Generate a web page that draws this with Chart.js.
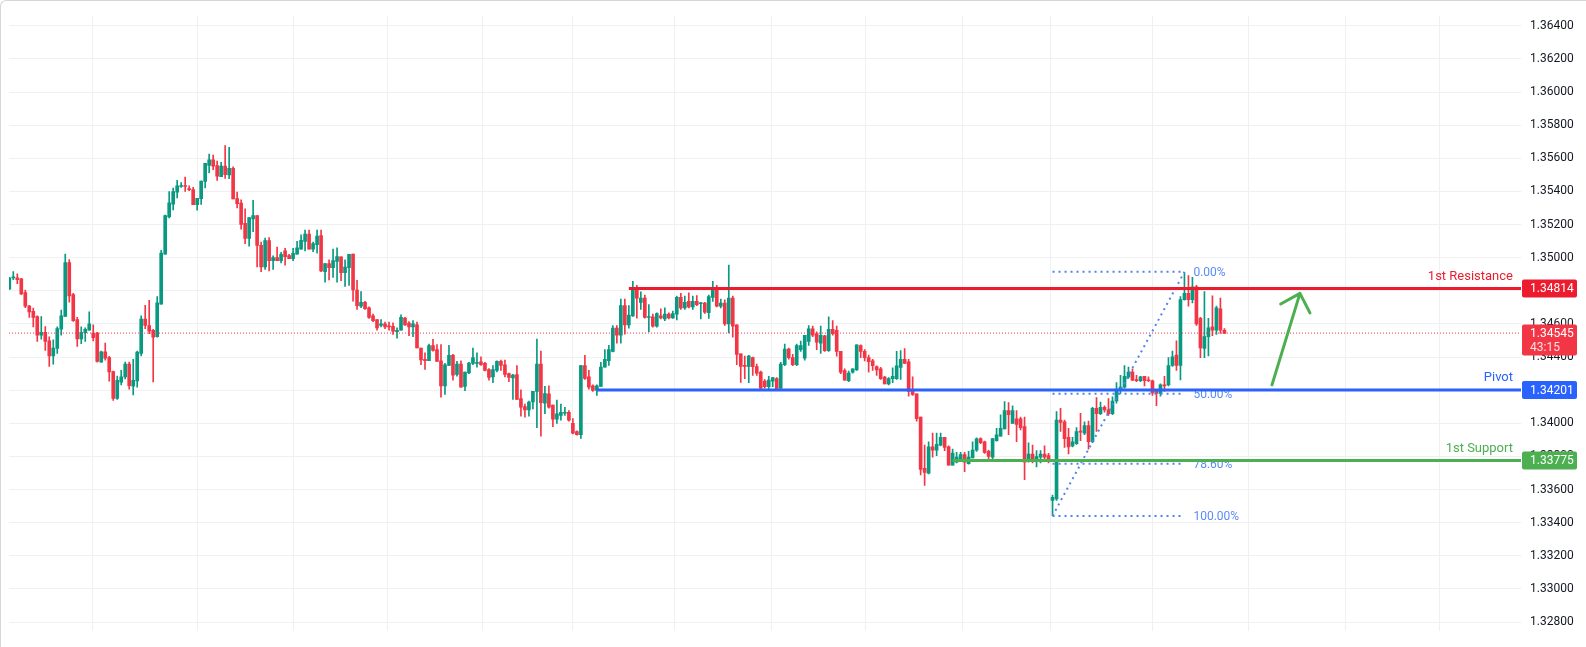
<!DOCTYPE html>
<html>
<head>
<meta charset="utf-8">
<title>Candles with levels</title>
<script src="https://cdn.jsdelivr.net/npm/chart.js@4.4.1/dist/chart.umd.min.js"></script>
<style>
  html, body { margin: 0; padding: 0; background: #fff; }
  #wrap { position: relative; width: 1586px; height: 647px; overflow: hidden; }
  #frame { position: absolute; left: 0; top: 0; width: 1600px; height: 700px; box-sizing: border-box;
           border-top: 1px solid #d6d6d6; border-left: 1px solid #d6d6d6; border-top-left-radius: 6px; pointer-events: none; }
</style>
</head>
<body>
<div id="wrap">
  <canvas id="chart" width="1586" height="647"></canvas>
  <div id="frame"></div>
</div>
<script>
// candles, oldest first
const opens = [
  1.34810,1.34878,1.34878,1.34873,1.34789,1.34708,1.34677,1.34644,1.34533,1.34549,
  1.34498,1.34407,1.34452,1.34568,1.34645,1.34970,1.34777,1.34626,1.34510,1.34547,
  1.34562,1.34545,1.34545,1.34370,1.34432,1.34397,1.34312,1.34151,1.34248,1.34281,
  1.34358,1.34225,1.34256,1.34422,1.34630,1.34591,1.34562,1.34523,1.34719,1.35021,
  1.35246,1.35324,1.35396,1.35430,1.35436,1.35417,1.35411,1.35320,1.35357,1.35460,
  1.35557,1.35591,1.35557,1.35489,1.35553,1.35500,1.35539,1.35357,1.35330,1.35207,
  1.35116,1.35234,1.35254,1.35075,1.34944,1.35103,1.34982,1.35001,1.34982,1.35042,
  1.35013,1.34994,1.35021,1.35052,1.35099,1.35143,1.35052,1.35079,1.35134,1.34916,
  1.34965,1.34940,1.34978,1.35005,1.34910,1.34940,1.35022,1.34805,1.34708,1.34731,
  1.34698,1.34649,1.34626,1.34591,1.34601,1.34588,1.34586,1.34553,1.34562,1.34636,
  1.34605,1.34582,1.34595,1.34455,1.34387,1.34378,1.34469,1.34446,1.34378,1.34226,
  1.34349,1.34411,1.34296,1.34358,1.34223,1.34304,1.34362,1.34362,1.34372,1.34362,
  1.34324,1.34281,1.34320,1.34374,1.34354,1.34300,1.34275,1.34295,1.34149,1.34102,
  1.34081,1.34129,1.34193,1.34358,1.34122,1.34178,1.34110,1.34025,1.34048,1.34061,
  1.34067,1.34000,1.33951,1.33932,1.34349,1.34281,1.34227,1.34199,1.34223,1.34339,
  1.34378,1.34435,1.34575,1.34532,1.34711,1.34595,1.34649,1.34814,1.34730,1.34756,
  1.34639,1.34643,1.34587,1.34649,1.34630,1.34659,1.34637,1.34659,1.34761,1.34697,
  1.34736,1.34703,1.34736,1.34722,1.34726,1.34668,1.34761,1.34814,1.34707,1.34726,
  1.34600,1.34756,1.34595,1.34420,1.34348,1.34344,1.34397,1.34342,1.34309,1.34255,
  1.34222,1.34255,1.34270,1.34212,1.34354,1.34449,1.34397,1.34354,1.34445,1.34393,
  1.34494,1.34571,1.34542,1.34484,1.34529,1.34439,1.34567,1.34562,1.34435,1.34319,
  1.34257,1.34309,1.34323,1.34470,1.34435,1.34397,1.34377,1.34342,1.34329,1.34280,
  1.34238,1.34270,1.34270,1.34338,1.34387,1.34372,1.34203,1.34178,1.34038,1.33728,
  1.33699,1.33858,1.33838,1.33869,1.33916,1.33858,1.33747,1.33766,1.33780,1.33811,
  1.33757,1.33792,1.33838,1.33908,1.33889,1.33831,1.33796,1.33896,1.33922,1.33966,
  1.34077,1.33999,1.34028,1.34028,1.33980,1.33772,1.33815,1.33776,1.33796,1.33815,
  1.33805,1.33534,1.33543,1.34019,1.34009,1.33916,1.33864,1.33877,1.33951,1.33941,
  1.33986,1.33889,1.34090,1.34058,1.34096,1.34081,1.34058,1.34135,1.34203,1.34219,
  1.34281,1.34310,1.34265,1.34257,1.34284,1.34261,1.34257,1.34193,1.34180,1.34232,
  1.34232,1.34349,1.34412,1.34349,1.34747,1.34785,1.34747,1.34824,1.34634,1.34452,
  1.34524,1.34582,1.34562,1.34692,1.34562
];
const highs = [
  1.34882,1.34917,1.34902,1.34876,1.34805,1.34713,1.34696,1.34649,1.34644,1.34585,
  1.34523,1.34504,1.34582,1.34684,1.35022,1.34989,1.34785,1.34640,1.34582,1.34576,
  1.34673,1.34595,1.34549,1.34436,1.34485,1.34405,1.34316,1.34285,1.34320,1.34370,
  1.34370,1.34386,1.34436,1.34649,1.34713,1.34743,1.34568,1.34766,1.35045,1.35258,
  1.35399,1.35421,1.35467,1.35454,1.35487,1.35434,1.35425,1.35359,1.35463,1.35570,
  1.35626,1.35619,1.35584,1.35576,1.35677,1.35667,1.35549,1.35397,1.35349,1.35295,
  1.35242,1.35347,1.35254,1.35095,1.35118,1.35122,1.35011,1.35064,1.35033,1.35056,
  1.35021,1.35056,1.35099,1.35138,1.35167,1.35167,1.35095,1.35167,1.35167,1.34965,
  1.34988,1.35052,1.35060,1.35005,1.34988,1.35021,1.35022,1.34863,1.34795,1.34737,
  1.34704,1.34659,1.34626,1.34626,1.34611,1.34611,1.34607,1.34576,1.34655,1.34640,
  1.34614,1.34620,1.34611,1.34455,1.34426,1.34478,1.34508,1.34475,1.34475,1.34362,
  1.34471,1.34417,1.34374,1.34378,1.34310,1.34368,1.34455,1.34426,1.34401,1.34368,
  1.34330,1.34349,1.34378,1.34382,1.34382,1.34304,1.34296,1.34349,1.34203,1.34116,
  1.34135,1.34193,1.34509,1.34436,1.34223,1.34227,1.34110,1.34141,1.34116,1.34096,
  1.34077,1.34029,1.33955,1.34349,1.34411,1.34320,1.34232,1.34232,1.34368,1.34446,
  1.34471,1.34591,1.34591,1.34750,1.34750,1.34711,1.34858,1.34833,1.34794,1.34775,
  1.34717,1.34659,1.34668,1.34691,1.34697,1.34668,1.34678,1.34769,1.34785,1.34769,
  1.34788,1.34769,1.34771,1.34730,1.34730,1.34775,1.34858,1.34833,1.34750,1.34746,
  1.34955,1.34769,1.34595,1.34420,1.34406,1.34410,1.34400,1.34358,1.34315,1.34265,
  1.34284,1.34276,1.34276,1.34368,1.34478,1.34455,1.34416,1.34478,1.34497,1.34532,
  1.34591,1.34587,1.34552,1.34587,1.34532,1.34643,1.34620,1.34587,1.34435,1.34329,
  1.34315,1.34329,1.34474,1.34474,1.34445,1.34412,1.34387,1.34348,1.34338,1.34284,
  1.34276,1.34335,1.34435,1.34440,1.34451,1.34387,1.34281,1.34178,1.34038,1.33869,
  1.33889,1.33941,1.33941,1.33941,1.33916,1.33864,1.33844,1.33825,1.33825,1.33825,
  1.33831,1.33889,1.33912,1.33912,1.33893,1.33838,1.33908,1.33970,1.34052,1.34131,
  1.34125,1.34106,1.34077,1.34038,1.34038,1.33883,1.33869,1.33835,1.33835,1.33864,
  1.33819,1.33567,1.34071,1.34090,1.34019,1.33970,1.33916,1.33974,1.34061,1.34009,
  1.34013,1.34096,1.34155,1.34129,1.34106,1.34149,1.34160,1.34246,1.34290,1.34349,
  1.34339,1.34329,1.34290,1.34284,1.34284,1.34281,1.34261,1.34203,1.34238,1.34284,
  1.34397,1.34436,1.34498,1.34766,1.34911,1.34892,1.34882,1.34834,1.34640,1.34795,
  1.34634,1.34770,1.34708,1.34756,1.34572
];
const lows = [
  1.34808,1.34867,1.34843,1.34777,1.34698,1.34640,1.34582,1.34494,1.34508,1.34440,
  1.34343,1.34358,1.34422,1.34533,1.34645,1.34731,1.34615,1.34465,1.34481,1.34494,
  1.34562,1.34498,1.34370,1.34370,1.34382,1.34254,1.34139,1.34145,1.34232,1.34269,
  1.34207,1.34172,1.34219,1.34407,1.34572,1.34541,1.34250,1.34521,1.34719,1.35021,
  1.35240,1.35289,1.35361,1.35424,1.35401,1.35405,1.35320,1.35287,1.35322,1.35421,
  1.35512,1.35531,1.35467,1.35489,1.35479,1.35477,1.35355,1.35300,1.35172,1.35085,
  1.35070,1.35157,1.34944,1.34916,1.34930,1.34920,1.34930,1.34982,1.34969,1.34955,
  1.34994,1.34982,1.35021,1.35052,1.35041,1.35052,1.35037,1.35027,1.34916,1.34852,
  1.34866,1.34881,1.34852,1.34862,1.34827,1.34833,1.34737,1.34688,1.34698,1.34688,
  1.34634,1.34614,1.34562,1.34582,1.34572,1.34562,1.34537,1.34514,1.34562,1.34591,
  1.34529,1.34523,1.34455,1.34354,1.34325,1.34378,1.34436,1.34374,1.34158,1.34174,
  1.34349,1.34261,1.34285,1.34219,1.34197,1.34300,1.34354,1.34339,1.34349,1.34316,
  1.34261,1.34246,1.34310,1.34320,1.34281,1.34252,1.34145,1.34145,1.34044,1.34038,
  1.34044,1.34087,1.33974,1.33922,1.34058,1.34091,1.33980,1.33999,1.34019,1.34048,
  1.34013,1.33936,1.33928,1.33909,1.34265,1.34207,1.34193,1.34168,1.34223,1.34339,
  1.34349,1.34432,1.34484,1.34484,1.34538,1.34575,1.34645,1.34635,1.34688,1.34635,
  1.34552,1.34581,1.34581,1.34630,1.34620,1.34630,1.34633,1.34624,1.34688,1.34688,
  1.34697,1.34688,1.34711,1.34630,1.34664,1.34633,1.34736,1.34703,1.34697,1.34591,
  1.34546,1.34521,1.34354,1.34247,1.34270,1.34245,1.34290,1.34290,1.34203,1.34212,
  1.34206,1.34222,1.34199,1.34203,1.34348,1.34387,1.34348,1.34348,1.34435,1.34381,
  1.34470,1.34523,1.34445,1.34422,1.34435,1.34435,1.34532,1.34406,1.34300,1.34261,
  1.34251,1.34303,1.34319,1.34397,1.34377,1.34309,1.34319,1.34290,1.34265,1.34238,
  1.34232,1.34245,1.34265,1.34265,1.34362,1.34164,1.34168,1.34013,1.33689,1.33625,
  1.33695,1.33796,1.33805,1.33864,1.33835,1.33747,1.33747,1.33761,1.33780,1.33708,
  1.33753,1.33792,1.33831,1.33877,1.33819,1.33772,1.33772,1.33893,1.33922,1.33966,
  1.33931,1.33999,1.33889,1.33961,1.33660,1.33766,1.33761,1.33737,1.33761,1.33776,
  1.33761,1.33443,1.33534,1.33951,1.33854,1.33815,1.33858,1.33873,1.33896,1.33931,
  1.33844,1.33883,1.33951,1.34052,1.34067,1.34048,1.34052,1.34122,1.34180,1.34213,
  1.34271,1.34257,1.34252,1.34252,1.34226,1.34252,1.34168,1.34106,1.34164,1.34193,
  1.34226,1.34343,1.34319,1.34262,1.34743,1.34708,1.34727,1.34591,1.34397,1.34397,
  1.34407,1.34529,1.34537,1.34543,1.34543
];
const closes = [
  1.34878,1.34882,1.34867,1.34781,1.34708,1.34673,1.34640,1.34533,1.34550,1.34494,
  1.34407,1.34455,1.34572,1.34649,1.34970,1.34770,1.34620,1.34510,1.34549,1.34568,
  1.34601,1.34517,1.34374,1.34432,1.34393,1.34310,1.34151,1.34259,1.34281,1.34358,
  1.34227,1.34259,1.34430,1.34630,1.34591,1.34556,1.34521,1.34727,1.35028,1.35254,
  1.35331,1.35399,1.35434,1.35436,1.35430,1.35411,1.35320,1.35359,1.35463,1.35570,
  1.35591,1.35553,1.35492,1.35553,1.35502,1.35539,1.35355,1.35326,1.35201,1.35116,
  1.35242,1.35254,1.35075,1.34944,1.35103,1.34982,1.35001,1.34982,1.35021,1.35007,
  1.34994,1.35027,1.35060,1.35105,1.35143,1.35052,1.35085,1.35130,1.34920,1.34965,
  1.34940,1.34982,1.35007,1.34910,1.34943,1.35021,1.34805,1.34711,1.34731,1.34692,
  1.34640,1.34620,1.34576,1.34601,1.34582,1.34582,1.34556,1.34562,1.34640,1.34595,
  1.34582,1.34601,1.34455,1.34383,1.34378,1.34469,1.34440,1.34374,1.34226,1.34354,
  1.34411,1.34291,1.34358,1.34219,1.34310,1.34364,1.34397,1.34368,1.34354,1.34320,
  1.34277,1.34324,1.34374,1.34349,1.34296,1.34277,1.34291,1.34145,1.34098,1.34081,
  1.34129,1.34193,1.34358,1.34125,1.34180,1.34098,1.34025,1.34058,1.34067,1.34067,
  1.34019,1.33941,1.33932,1.34349,1.34271,1.34219,1.34199,1.34227,1.34339,1.34387,
  1.34446,1.34575,1.34532,1.34711,1.34595,1.34653,1.34814,1.34756,1.34756,1.34639,
  1.34645,1.34587,1.34662,1.34637,1.34659,1.34637,1.34662,1.34761,1.34697,1.34730,
  1.34703,1.34736,1.34717,1.34726,1.34672,1.34765,1.34820,1.34707,1.34726,1.34600,
  1.34756,1.34587,1.34416,1.34344,1.34344,1.34406,1.34342,1.34303,1.34212,1.34222,
  1.34261,1.34276,1.34206,1.34358,1.34449,1.34397,1.34354,1.34470,1.34470,1.34532,
  1.34571,1.34532,1.34490,1.34532,1.34439,1.34567,1.34542,1.34435,1.34309,1.34261,
  1.34303,1.34329,1.34474,1.34435,1.34397,1.34373,1.34348,1.34323,1.34270,1.34238,
  1.34270,1.34284,1.34348,1.34387,1.34362,1.34193,1.34174,1.34028,1.33722,1.33704,
  1.33858,1.33838,1.33873,1.33916,1.33854,1.33747,1.33821,1.33796,1.33811,1.33766,
  1.33796,1.33838,1.33906,1.33883,1.33825,1.33800,1.33908,1.33931,1.33970,1.34077,
  1.34052,1.34077,1.33994,1.33974,1.33766,1.33815,1.33776,1.33800,1.33815,1.33796,
  1.33786,1.33553,1.34019,1.34005,1.33908,1.33858,1.33889,1.33951,1.33947,1.33986,
  1.33889,1.34090,1.34058,1.34096,1.34081,1.34058,1.34135,1.34207,1.34219,1.34284,
  1.34310,1.34261,1.34257,1.34281,1.34257,1.34257,1.34184,1.34180,1.34232,1.34226,
  1.34349,1.34401,1.34349,1.34747,1.34785,1.34747,1.34824,1.34601,1.34456,1.34524,
  1.34576,1.34562,1.34698,1.34562,1.34543
];

// price axis ticks and the time grid (in bar index units)
const priceTicks = [1.328,1.330,1.332,1.334,1.336,1.338,1.340,1.342,1.344,1.346,
                    1.348,1.350,1.352,1.354,1.356,1.358,1.360,1.362,1.364];
const timeGrid = [20.9,47.0,71.0,94.5,118.5,140.8,166.3,190.6,214.3,238.4,260.4,286.1,310.1,334.2,357.7];

// drawn levels
const levelNames  = ['1st Resistance','Pivot','1st Support'];
const levelPrices = [1.34814, 1.34201, 1.33775];
const levelStart  = [155, 147, 236];
const levelColors = ['#ec1c2e','#2962ff','#4caf50'];

const lastPrice = 1.34545;
const countdown = '43:15';

// fib retracement
const fibHigh = 1.34915, fibLow = 1.33441;
const fibRatios = [0, 0.5, 0.786, 1];
const fibLabels = ['0.00%','50.00%','78.60%','100.00%'];
const fibFrom = 261, fibTo = 294;

// hand drawn arrow
const arrowFrom = {x: 315.9, y: 1.34232};
const arrowTo   = {x: 322.9, y: 1.34785};

const xMin = -0.075, xMax = 378.2;
const UP = '#089981', DOWN = '#f23645';
const FONT = 'Roboto, "Open Sans", sans-serif';

var idx = opens.map(function (o, i) { return i; });
var candleColors = idx.map(function (i) { return closes[i] >= opens[i] ? UP : DOWN; });

var datasets = [
  {
    type: 'bar', label: 'wicks',
    data: idx.map(function (i) { return {x: i, y: [lows[i], highs[i]]}; }),
    backgroundColor: candleColors, barThickness: 1, grouped: false, order: 5
  },
  {
    type: 'bar', label: 'bodies',
    data: idx.map(function (i) { return {x: i, y: [opens[i], closes[i]]}; }),
    backgroundColor: candleColors, barThickness: 3, minBarLength: 1, grouped: false, order: 4
  },
  {
    type: 'line', label: 'last',
    data: [{x: xMin, y: lastPrice}, {x: xMax, y: lastPrice}],
    borderColor: DOWN, borderWidth: 1, borderDash: [1, 2], pointRadius: 0, order: 3
  }
];

var fibColor = '#4f83f2';
fibRatios.forEach(function (r) {
  var p = fibHigh - r * (fibHigh - fibLow);
  datasets.push({
    type: 'line', label: 'fib' + r,
    data: [{x: fibFrom, y: p}, {x: fibTo, y: p}],
    borderColor: fibColor, borderWidth: 2, borderDash: [2, 4], pointRadius: 0, order: 2
  });
});
datasets.push({
  type: 'line', label: 'fibTrend',
  data: [{x: fibFrom, y: fibLow}, {x: fibTo, y: fibHigh}],
  borderColor: fibColor, borderWidth: 2, borderDash: [2, 4], pointRadius: 0, order: 2
});

levelPrices.forEach(function (p, k) {
  datasets.push({
    type: 'line', label: levelNames[k],
    data: [{x: levelStart[k], y: p}, {x: xMax, y: p}],
    borderColor: levelColors[k], borderWidth: 3, pointRadius: 0, order: 1
  });
});

function roundRect(ctx, x, y, w, h, r) {
  ctx.beginPath();
  ctx.moveTo(x + r, y);
  ctx.lineTo(x + w - r, y);
  ctx.quadraticCurveTo(x + w, y, x + w, y + r);
  ctx.lineTo(x + w, y + h - r);
  ctx.quadraticCurveTo(x + w, y + h, x + w - r, y + h);
  ctx.lineTo(x + r, y + h);
  ctx.quadraticCurveTo(x, y + h, x, y + h - r);
  ctx.lineTo(x, y + r);
  ctx.quadraticCurveTo(x, y, x + r, y);
  ctx.closePath();
}

var overlay = {
  id: 'overlay',
  beforeDatasetsDraw: function (chart) {
    var ctx = chart.ctx, xs = chart.scales.x, ys = chart.scales.y;
    ctx.save();
    ctx.font = '12px ' + FONT;
    ctx.fillStyle = '#5a8cf5';
    ctx.textAlign = 'left';
    ctx.textBaseline = 'middle';
    fibRatios.forEach(function (r, k) {
      var p = fibHigh - r * (fibHigh - fibLow);
      ctx.fillText(fibLabels[k], xs.getPixelForValue(fibTo) + 9, ys.getPixelForValue(p) + 1);
    });
    ctx.restore();
  },
  afterDatasetsDraw: function (chart) {
    var ctx = chart.ctx, xs = chart.scales.x, ys = chart.scales.y, area = chart.chartArea;
    ctx.save();
    ctx.font = '13px ' + FONT;
    ctx.textAlign = 'right';
    ctx.textBaseline = 'middle';
    levelPrices.forEach(function (p, k) {
      ctx.fillStyle = levelColors[k];
      ctx.fillText(levelNames[k], area.right - 8, ys.getPixelForValue(p) - 12);
    });

    // arrow
    var x0 = xs.getPixelForValue(arrowFrom.x), y0 = ys.getPixelForValue(arrowFrom.y);
    var x1 = xs.getPixelForValue(arrowTo.x), y1 = ys.getPixelForValue(arrowTo.y);
    var ang = Math.atan2(y0 - y1, x0 - x1), wing = 22, spread = 44 * Math.PI / 180;
    ctx.strokeStyle = '#4caf50';
    ctx.lineWidth = 3;
    ctx.lineCap = 'round';
    ctx.lineJoin = 'round';
    ctx.beginPath();
    ctx.moveTo(x0, y0);
    ctx.lineTo(x1, y1);
    ctx.moveTo(x1 + wing * Math.cos(ang + spread), y1 + wing * Math.sin(ang + spread));
    ctx.lineTo(x1, y1);
    ctx.lineTo(x1 + wing * Math.cos(ang - spread), y1 + wing * Math.sin(ang - spread));
    ctx.stroke();
    ctx.restore();
  },
  afterDraw: function (chart) {
    var ctx = chart.ctx, ys = chart.scales.y, area = chart.chartArea;
    var left = area.right + 1, w = 55;
    ctx.save();
    ctx.textAlign = 'left';
    ctx.textBaseline = 'middle';
    ctx.font = '12px ' + FONT;
    levelPrices.forEach(function (p, k) {
      var yc = ys.getPixelForValue(p);
      ctx.fillStyle = levelColors[k];
      roundRect(ctx, left, yc - 9, w, 18, 2);
      ctx.fill();
      ctx.fillStyle = '#ffffff';
      ctx.fillText(p.toFixed(5), left + 8, yc + 0.5);
    });
    var yl = ys.getPixelForValue(lastPrice);
    ctx.fillStyle = DOWN;
    roundRect(ctx, left, yl - 8.5, w, 31, 2);
    ctx.fill();
    ctx.fillStyle = '#ffffff';
    ctx.fillText(lastPrice.toFixed(5), left + 8, yl + 0.5);
    ctx.fillStyle = 'rgba(255,255,255,0.85)';
    ctx.fillText(countdown, left + 8, yl + 14.5);
    ctx.restore();
  }
};

new Chart(document.getElementById('chart'), {
  type: 'bar',
  data: { datasets: datasets },
  options: {
    responsive: false,
    animation: false,
    parsing: true,
    layout: { padding: { left: 9, top: 9, right: 0, bottom: 0 } },
    plugins: { legend: { display: false }, tooltip: { enabled: false } },
    scales: {
      x: {
        type: 'linear', min: xMin, max: xMax, offset: false,
        afterBuildTicks: function (s) { s.ticks = timeGrid.map(function (v) { return {value: v}; }); },
        afterFit: function (s) { s.height = 0; },
        grid: { color: '#eff0f2', drawTicks: false, offset: false },
        border: { display: false },
        ticks: { display: false }
      },
      y: {
        position: 'right', min: 1.327475, max: 1.364582,
        afterBuildTicks: function (s) { s.ticks = priceTicks.map(function (v) { return {value: v}; }); },
        afterFit: function (s) { s.width = 65; },
        grid: { color: '#eff0f2', drawTicks: false },
        border: { display: false },
        ticks: {
          color: '#131722', padding: 9, autoSkip: false,
          font: { family: FONT, size: 12 },
          callback: function (v) { return Number(v).toFixed(5); }
        }
      }
    }
  },
  plugins: [overlay]
});
</script>
</body>
</html>
